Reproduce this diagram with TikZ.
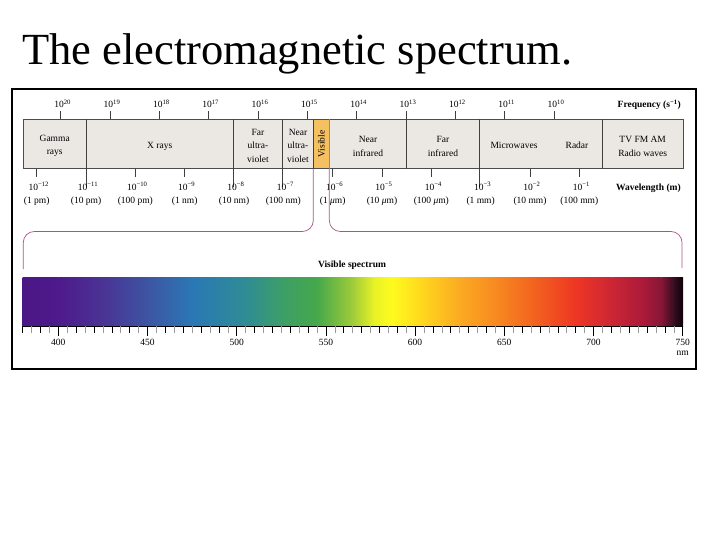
\documentclass[tikz,border=0pt]{standalone}
\usepackage{fontspec}
\setmainfont{Liberation Serif}
\definecolor{boxgray}{HTML}{EBE8E4}
\definecolor{visorange}{HTML}{F5C060}
\definecolor{brk}{HTML}{B0508C}
\definecolor{s380}{HTML}{4B1685}
\definecolor{s400}{HTML}{4E1A8C}
\definecolor{s425}{HTML}{4A3494}
\definecolor{s450}{HTML}{3D55A3}
\definecolor{s475}{HTML}{2A78B5}
\definecolor{s505}{HTML}{2F8C94}
\definecolor{s525}{HTML}{3C9E68}
\definecolor{s545}{HTML}{45A84A}
\definecolor{s565}{HTML}{A0CC3A}
\definecolor{s577}{HTML}{E8F226}
\definecolor{s587}{HTML}{FFFA1E}
\definecolor{s605}{HTML}{FFD41E}
\definecolor{s625}{HTML}{FBAA22}
\definecolor{s645}{HTML}{F78A20}
\definecolor{s668}{HTML}{F2601F}
\definecolor{s690}{HTML}{EE3624}
\definecolor{s710}{HTML}{CC2634}
\definecolor{s728}{HTML}{AA1A3A}
\definecolor{s738}{HTML}{861636}
\definecolor{s746}{HTML}{2A0C1C}
\definecolor{s750}{HTML}{100008}
\begin{document}
\begin{tikzpicture}[x=1pt,y=-1pt,
  lbl/.style={font=\fontsize{9.5}{11}\selectfont, inner sep=0},
  region/.style={font=\fontsize{9.5}{13.5}\selectfont, inner sep=0, align=center},
  bold/.style={font=\fontsize{9.5}{11}\selectfont\bfseries, inner sep=0},
  tick/.style={draw=black!75, line width=0.6pt},
  ltick/.style={draw=black!45, line width=0.5pt},
  brace/.style={draw=brk, line width=0.7pt, rounded corners=11pt}]
\useasboundingbox (0,0) rectangle (720,540);
\fill[white] (0,0) rectangle (720,540);
\node[anchor=base west, inner sep=0, font=\fontsize{44.5}{50}\selectfont] (title) at (22,65) {The electromagnetic spectrum.};
\draw[line width=2pt] (12,89) rectangle (696,369);
% band box
\draw[fill=boxgray, draw=black!70, line width=0.6pt] (23.3,119.3) rectangle (683.3,168.7);
\fill[visorange] (313.3,119.6) rectangle (329.3,168.4);
% dividers
\foreach \x in {86,233.3,282.7,479.3} \draw[tick] (\x,119.3) -- (\x,187);
\draw[tick] (406.7,111) -- (406.7,168.7);
\draw[tick] (602.3,119.3) -- (602.3,168.7);
\draw[tick] (313.3,119.3) -- (313.3,168.7);
\draw[ltick] (329.3,119.3) -- (329.3,168.7);
% frequency ticks and labels
\foreach \n in {20,19,18,17,16,15,14,12,11,10} {
  \pgfmathsetmacro\xx{60.7+49.33*(20-\n)}
  \draw[tick] (\xx,111) -- (\xx,119.3);
}
\foreach \n in {20,19,18,17,16,15,14,13,12,11,10} {
  \pgfmathsetmacro\xx{60.7+49.33*(20-\n)}
  \node[lbl, anchor=base] (f\n) at (\xx+2,108) {10\textsuperscript{\n}};
}
\node[bold, anchor=base east] (freq) at (681,108) {Frequency (s\textsuperscript{−1})};
% wavelength ticks and labels
\foreach \m in {12,10,9,6,5,4,2,1} {
  \pgfmathsetmacro\xx{36.7+49.33*(12-\m)}
  \draw[tick] (\xx,168.7) -- (\xx,177.5);
}
\foreach \m/\t in {12/(1 pm),11/(10 pm),10/(100 pm),9/(1 nm),8/(10 nm),7/(100 nm),6/(1 \textit{μ}m),5/(10 \textit{μ}m),4/(100 \textit{μ}m),3/(1 mm),2/(10 mm),1/(100 mm)} {
  \pgfmathsetmacro\xx{36.7+49.33*(12-\m)}
  \node[lbl, anchor=base] (w\m) at (\xx+2,190.5) {10\textsuperscript{−\m}};
  \node[lbl, anchor=base] (p\m) at (\xx,203.5) {\t};
}
\node[bold, anchor=base east] (wave) at (681,190.5) {Wavelength (m)};
% region labels
\node[region] (gamma) at (54.7,146) {Gamma\\rays};
\node[region] (xray) at (159.7,146) {X rays};
\node[region] (fuv) at (258,145.5) {Far\\ultra-\\violet};
\node[region] (nuv) at (298,145.5) {Near\\ultra-\\violet};
\node[region, rotate=90] (vis) at (321.3,144) {Visible};
\node[region] (nir) at (368,146.5) {Near\\infrared};
\node[region] (fir) at (443,146.5) {Far\\infrared};
\node[region] (micro) at (514,145.5) {Microwaves};
\node[region] (radar) at (577,145.5) {Radar};
\node[region] (radio) at (642.7,146.5) {TV FM AM\\Radio waves};
% bracket
\draw[brace] (313.3,168.7) -- (313.3,231.5) -- (23.3,231.5) -- (23.3,269);
\draw[brace] (329.3,168.7) -- (329.3,231.5) -- (682,231.5) -- (682,268);
\node[bold, anchor=base] (vspec) at (352,267.5) {Visible spectrum};
% spectrum bar
\foreach \a/\b in {380/400,400/425,425/450,450/475,475/505,505/525,525/545,545/565,565/577,577/587,587/605,605/625,625/645,645/668,668/690,690/710,710/728,728/738,738/746,746/750} {
  \pgfmathsetmacro\xa{58.3+1.784*(\a-400)}
  \pgfmathsetmacro\xb{58.3+1.784*(\b-400)}
  \shade[left color=s\a, right color=s\b] (\xa,277.3) rectangle (\xb+0.4,326);
}
\draw[black, line width=0.8pt] (22.6,326) -- (682.7,326);
\foreach \nm in {380,385,...,750} {
  \pgfmathsetmacro\xx{58.3+1.784*(\nm-400)}
  \pgfmathtruncatemacro\rt{mod(\nm,10)}
  \pgfmathtruncatemacro\rf{mod(\nm,50)}
  \ifnum\rf=0
    \draw[black, line width=0.6pt] (\xx,326) -- (\xx,336);
  \else\ifnum\rt=0
    \draw[black, line width=0.6pt] (\xx,326) -- (\xx,332.5);
  \else
    \draw[black!40, line width=0.5pt] (\xx,326) -- (\xx,332.5);
  \fi\fi
}
\foreach \nm in {400,450,...,750} {
  \pgfmathsetmacro\xx{58.3+1.784*(\nm-400)}
  \node[lbl, anchor=base] (n\nm) at (\xx,345) {\nm};
}
\node[lbl, anchor=base] (nmunit) at (682.7,355) {nm};
\end{tikzpicture}
\end{document}
